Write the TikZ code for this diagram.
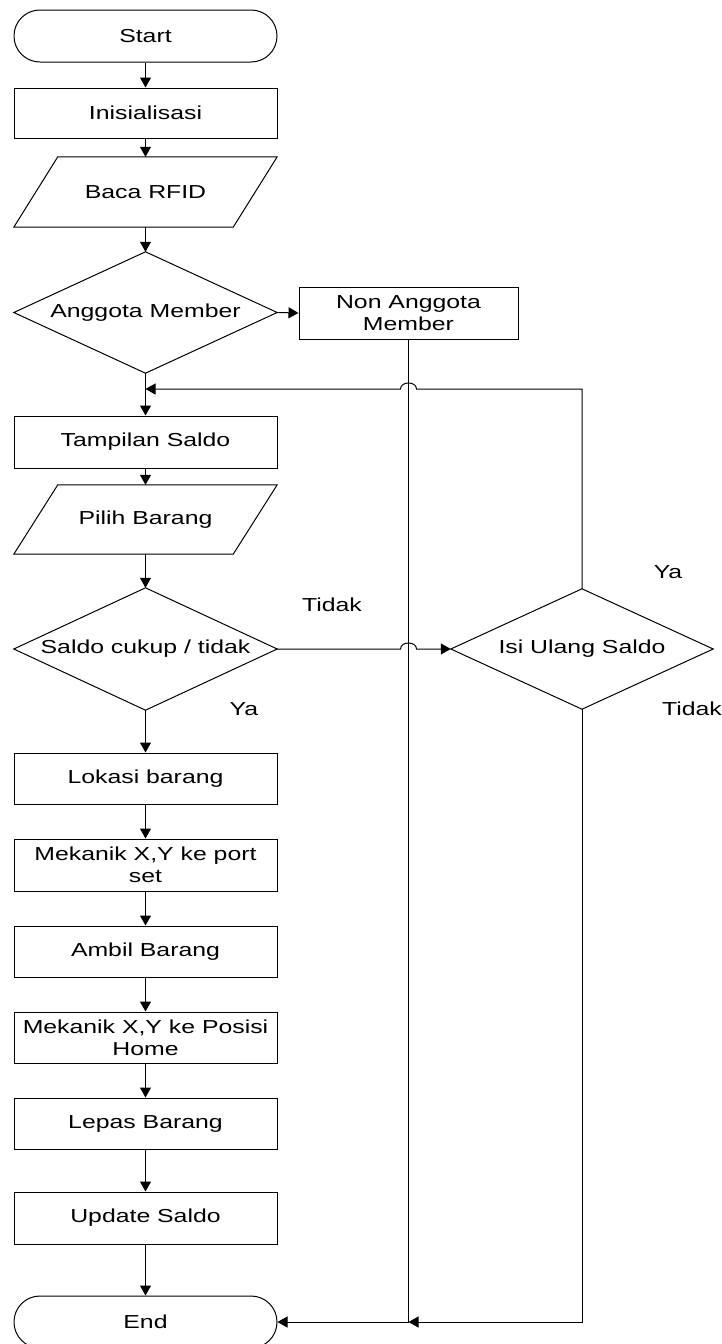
\documentclass[tikz,border=0pt]{standalone}
\usepackage{fontspec}
\setmainfont{Liberation Sans}[FakeStretch=1.32]
\usetikzlibrary{arrows.meta}
\begin{document}
\begin{tikzpicture}[x=1pt,y=-1pt,
  every node/.style={font=\fontsize{18.8}{22}\selectfont, inner sep=0pt, align=center},
  procbox/.style={draw, line width=1pt, rectangle, minimum width=263pt, minimum height=51pt},
  termbox/.style={draw, line width=1pt, rectangle, rounded corners=25.9pt, minimum width=263pt, minimum height=52pt},
  shapebox/.style={rectangle, minimum width=263pt},
  outline/.style={line width=1pt},
  flow/.style={line width=1pt, -{Triangle[length=10pt,width=11pt]}},
  lbl/.style={}
]
\useasboundingbox (0,0) rectangle (721,1344);

% nodes
\node[termbox] (start) at (145.5,36) {Start};
\node[procbox, minimum height=50pt] (init) at (145.5,113) {Inisialisasi};
\node[shapebox, minimum height=70pt] (baca) at (145.5,192) {Baca RFID};
\node[shapebox, minimum height=121pt] (ang) at (145.5,312.5) {Anggota Member};
\node[procbox, minimum width=219pt, minimum height=52pt] (non) at (408.5,313) {Non Anggota\\Member};
\node[procbox, minimum height=52pt] (tamp) at (145.5,442) {Tampilan Saldo};
\node[shapebox, minimum height=69pt] (pilih) at (145.5,519.5) {Pilih Barang};
\node[shapebox, minimum height=122pt] (saldo) at (145.5,649) {Saldo cukup / tidak};
\node[shapebox, minimum width=262pt, minimum height=120pt] (isi) at (582,649) {Isi Ulang Saldo};
\node[procbox] (lok) at (145.5,778.5) {Lokasi barang};
\node[procbox, minimum height=52pt] (mek1) at (145.5,865) {Mekanik X,Y ke port\\set};
\node[procbox] (ambil) at (145.5,951.5) {Ambil Barang};
\node[procbox] (mek2) at (145.5,1037.5) {Mekanik X,Y ke Posisi\\Home};
\node[procbox] (lepas) at (145.5,1123.5) {Lepas Barang};
\node[procbox, minimum height=52pt] (upd) at (145.5,1218) {Update Saldo};
\node[termbox] (end) at (145.5,1322) {End};

% outlines of parallelograms and diamonds
\draw[outline] ([xshift=44pt]baca.north west) -- (baca.north east) -- ([xshift=-44pt]baca.south east) -- (baca.south west) -- cycle;
\draw[outline] ([xshift=44pt]pilih.north west) -- (pilih.north east) -- ([xshift=-44pt]pilih.south east) -- (pilih.south west) -- cycle;
\draw[outline] (ang.north) -- (ang.east) -- (ang.south) -- (ang.west) -- cycle;
\draw[outline] (saldo.north) -- (saldo.east) -- (saldo.south) -- (saldo.west) -- cycle;
\draw[outline] (isi.north) -- (isi.east) -- (isi.south) -- (isi.west) -- cycle;

% labels
\node[lbl] (l1) at (332,605) {Tidak};
\node[lbl] (l2) at (668,572) {Ya};
\node[lbl] (l3) at (244,709) {Ya};
\node[lbl] (l4) at (692,709) {Tidak};

% main flow
\draw[flow] (start) -- (init);
\draw[flow] (init) -- (baca.north);
\draw[flow] (baca.south) -- (ang.north);
\draw[flow] (ang.east) -- (non.west);
\draw[flow] (ang.south) -- (tamp.north);
\draw[flow] (tamp) -- (pilih.north);
\draw[flow] (pilih.south) -- (saldo.north);
\draw[flow] (saldo.south) -- (lok.north);
\draw[flow] (lok) -- (mek1);
\draw[flow] (mek1) -- (ambil);
\draw[flow] (ambil) -- (mek2);
\draw[flow] (mek2) -- (lepas);
\draw[flow] (lepas) -- (upd);
\draw[flow] (upd) -- (end);

% coordinates
\coordinate (m1) at (145.5,389);
\coordinate (j) at (408.5,1322);

% Tidak: saldo -> isi with jump over
\draw[flow] (saldo.east) -- (400.5,649) .. controls (400.5,641) and (416.5,641) .. (416.5,649) -- (isi.west);
% Ya: isi -> back to tampilan with jump over
\draw[flow] (isi.north) -- (582,389) -- (416.5,389) .. controls (416.5,381) and (400.5,381) .. (400.5,389) -- (m1);
% Tidak: isi -> end
\draw[flow] (isi.south) |- (j);
% non anggota -> end
\draw[flow] (non.south) |- (end.east);
\end{tikzpicture}
\end{document}
